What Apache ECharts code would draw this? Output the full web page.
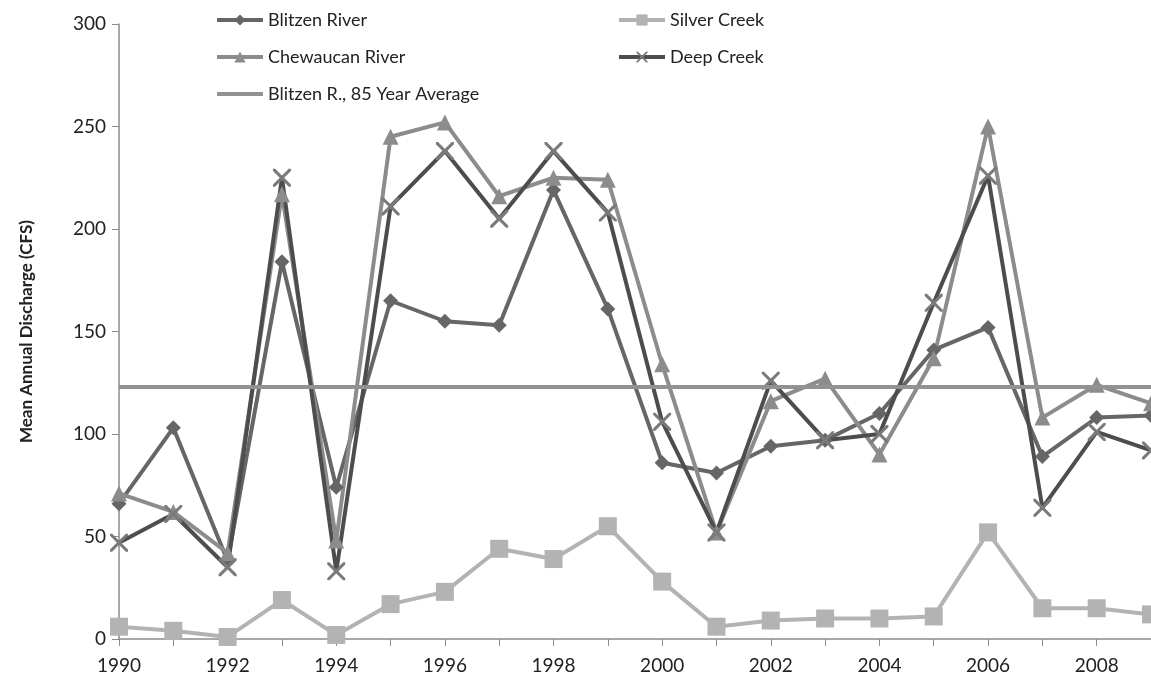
<!DOCTYPE html>
<html>
<head>
<meta charset="utf-8">
<script src="https://cdn.jsdelivr.net/npm/echarts@6/dist/echarts.min.js"></script>
<style>
  html, body { margin: 0; padding: 0; background: #fff; }
  #chart { width: 1151px; height: 689px; }
</style>
</head>
<body>
<div id="chart"></div>
<script>
const years = ['1990','1991','1992','1993','1994','1995','1996','1997','1998','1999',
  '2000','2001','2002','2003','2004','2005','2006','2007','2008','2009'];

const blitzen   = [66, 103, 38, 184, 74, 165, 155, 153, 219, 161, 86, 81, 94, 97, 110, 141, 152, 89, 108, 109];
const silver    = [6, 4, 1, 19, 2, 17, 23, 44, 39, 55, 28, 6, 9, 10, 10, 11, 52, 15, 15, 12];
const chewaucan = [71, 62, 42, 217, 48, 245, 252, 216, 225, 224, 134, 52, 116, 127, 90, 137, 250, 108, 124, 115];
const deepCreek = [47, 61, 35, 225, 33, 211, 238, 205, 238, 208, 106, 52, 126, 97, 100, 164, 226, 64, 101, 92];
const blitzenAvg = 123;

const font = 'Lato, "Open Sans", sans-serif';
// thin X marker (Excel style)
const xMark = 'path://M0,0L1.2,0L10,8.8L10,10L8.8,10L0,1.2Z M8.8,0L10,0L10,1.2L1.2,10L0,10L0,8.8Z';
// plain line for the average in the legend (corner dots keep the box 46x14)
const lineIcon = 'path://M0,0L0.01,0L0,0.01Z M0,5L46,5L46,9L0,9Z M46,14L45.99,14L46,13.99Z';

const chart = echarts.init(document.getElementById('chart'));

const legendText = { fontFamily: font, fontSize: 18, color: '#222' };

chart.setOption({
  animation: false,
  grid: { left: 119, right: -3, top: 24, bottom: 50 },
  legend: [
    {
      orient: 'vertical', left: 210, top: 6, itemWidth: 46, itemHeight: 14, itemGap: 19,
      lineStyle: { width: 4 },
      textStyle: legendText,
      data: ['Blitzen River', 'Chewaucan River', { name: 'Blitzen R., 85 Year Average', icon: lineIcon }]
    },
    {
      orient: 'vertical', left: 612, top: 6, itemWidth: 46, itemHeight: 14, itemGap: 19,
      lineStyle: { width: 4 },
      textStyle: legendText,
      data: ['Silver Creek', 'Deep Creek']
    }
  ],
  xAxis: {
    type: 'category',
    data: years,
    boundaryGap: false,
    axisLine: { lineStyle: { color: '#8c8c8c', width: 1.5 } },
    axisTick: { interval: 0, length: 7, lineStyle: { color: '#8c8c8c' } },
    axisLabel: { interval: 1, margin: 17, fontFamily: font, fontSize: 19, color: '#222' },
    splitLine: { show: false }
  },
  yAxis: {
    type: 'value',
    min: 0, max: 300, interval: 50,
    name: 'Mean Annual Discharge (CFS)',
    nameLocation: 'middle',
    nameGap: 84,
    nameTextStyle: { fontFamily: font, fontSize: 17, fontWeight: 'bold', color: '#222' },
    axisLine: { show: true, lineStyle: { color: '#8c8c8c', width: 1.5 } },
    axisTick: { show: true, length: 7, lineStyle: { color: '#8c8c8c' } },
    axisLabel: { margin: 13, fontFamily: font, fontSize: 19, color: '#222' },
    splitLine: { show: false }
  },
  series: [
    {
      name: 'Blitzen River', type: 'line', data: blitzen,
      symbol: 'diamond', symbolSize: 15,
      lineStyle: { color: '#666666', width: 4 },
      itemStyle: { color: '#666666' }
    },
    {
      name: 'Silver Creek', type: 'line', data: silver,
      symbol: 'rect', symbolSize: 18,
      lineStyle: { color: '#b3b3b3', width: 4 },
      itemStyle: { color: '#b3b3b3' }
    },
    {
      name: 'Chewaucan River', type: 'line', data: chewaucan,
      symbol: 'triangle', symbolSize: 16,
      lineStyle: { color: '#8c8c8c', width: 4 },
      itemStyle: { color: '#8c8c8c' }
    },
    {
      name: 'Deep Creek', type: 'line', data: deepCreek,
      symbol: xMark, symbolSize: 18,
      lineStyle: { color: '#4d4d4d', width: 4 },
      itemStyle: { color: '#7a7a7a' }
    },
    {
      name: 'Blitzen R., 85 Year Average', type: 'line', data: [],
      symbol: 'none',
      lineStyle: { color: '#929292', width: 4 },
      itemStyle: { color: '#929292' },
      markLine: {
        silent: true, symbol: 'none', label: { show: false },
        lineStyle: { color: '#929292', width: 4, type: 'solid' },
        data: [{ yAxis: blitzenAvg }]
      }
    }
  ]
});
</script>
</body>
</html>
